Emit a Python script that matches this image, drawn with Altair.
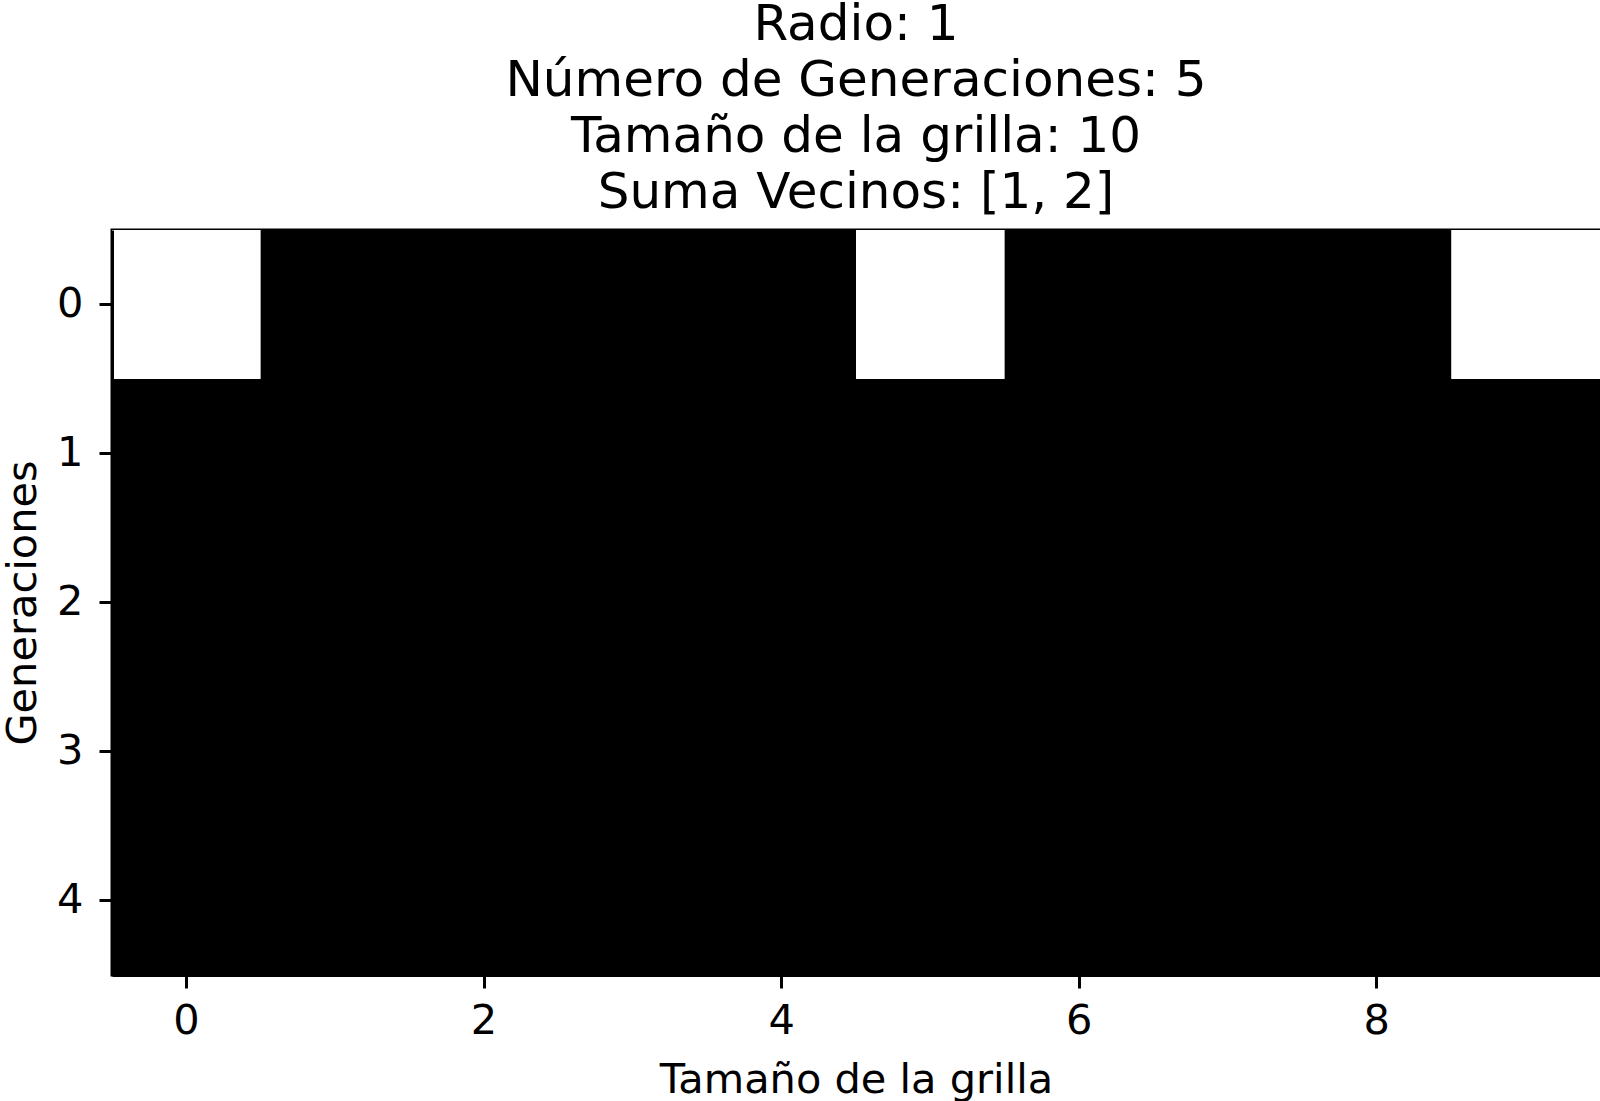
import altair as alt
import pandas as pd

title_lines = ["Radio: 1", "Número de Generaciones: 5", "Tamaño de la grilla: 10", "Suma Vecinos: [1, 2]"]
x_label = "Tamaño de la grilla"
y_label = "Generaciones"

generations = [0, 1, 2, 3, 4]
cells = [0, 1, 2, 3, 4, 5, 6, 7, 8, 9]
grid = [
    [1, 0, 0, 0, 0, 1, 0, 0, 0, 1],
    [0, 0, 0, 0, 0, 0, 0, 0, 0, 0],
    [0, 0, 0, 0, 0, 0, 0, 0, 0, 0],
    [0, 0, 0, 0, 0, 0, 0, 0, 0, 0],
    [0, 0, 0, 0, 0, 0, 0, 0, 0, 0],
]
x_ticks = [0, 2, 4, 6, 8]

rows = []
for g in generations:
    for c in cells:
        rows.append({"gen": g, "cell": c, "state": grid[g][c]})
df = pd.DataFrame(rows)

FONT = "DejaVu Sans"

chart = alt.Chart(df).mark_rect().encode(
    x=alt.X("cell:O", title=x_label,
            scale=alt.Scale(domain=cells, paddingInner=0, paddingOuter=0),
            axis=alt.Axis(values=x_ticks, labelAngle=0, labelPadding=12, titlePadding=18,
                          zindex=1)),
    y=alt.Y("gen:O", title=y_label,
            scale=alt.Scale(domain=generations, paddingInner=0, paddingOuter=0),
            axis=alt.Axis(labelPadding=16, titlePadding=12, zindex=1)),
    color=alt.Color("state:N", scale=alt.Scale(domain=[0, 1], range=["#000000", "#ffffff"]),
                    legend=None),
).properties(
    width=1488,
    height=745,
    title=alt.TitleParams(text=title_lines, fontSize=50, lineHeight=56, font=FONT,
                          fontWeight="normal", anchor="middle", offset=12, color="black"),
    autosize=alt.AutoSizeParams(type="none"),
    padding={"left": 112, "top": 230, "right": 0, "bottom": 126},
).configure_view(
    fill="black", stroke="black", strokeWidth=3
).configure_axis(
    labelFont=FONT, titleFont=FONT, labelFontSize=41.5, titleFontSize=41.5,
    labelColor="black", titleColor="black", titleFontWeight="normal",
    tickColor="black", tickSize=13, tickWidth=3, domainColor="black", domainWidth=3,
    grid=False,
)

chart.save("out.html", embed_options={"renderer": "svg", "actions": False})
